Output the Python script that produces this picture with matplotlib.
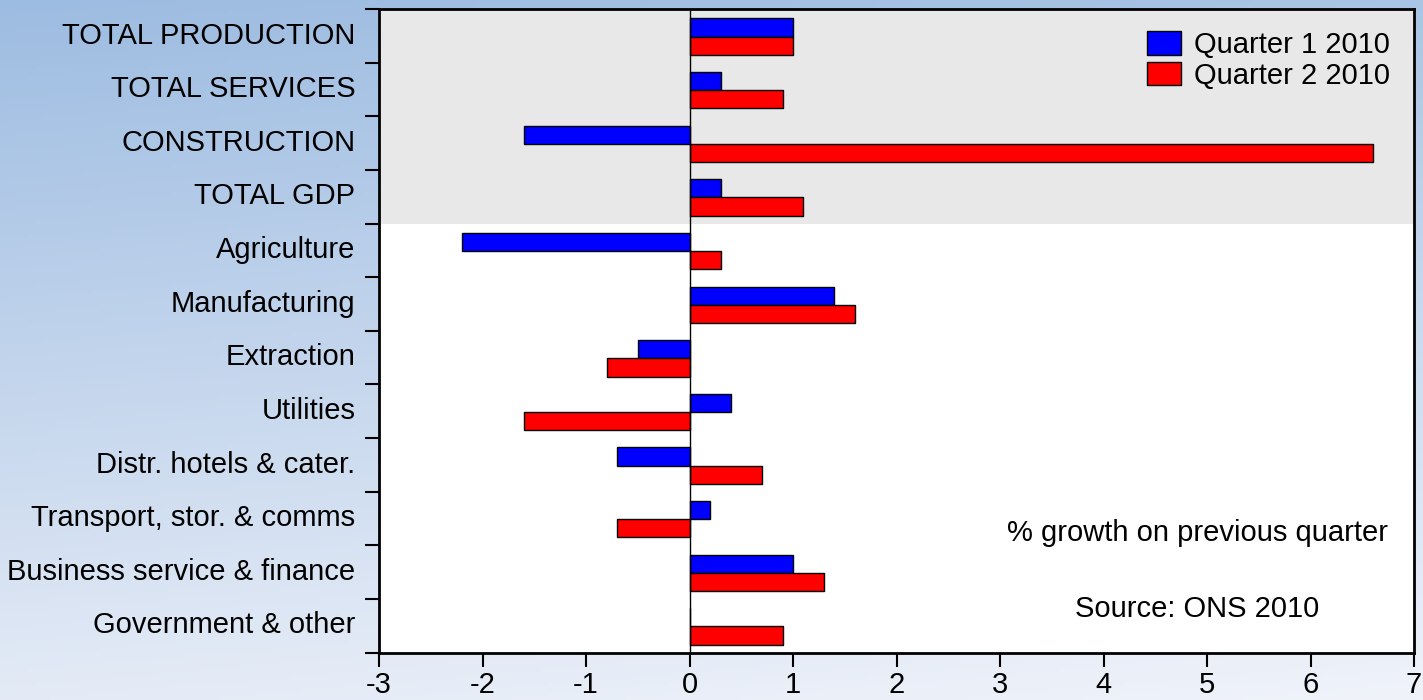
import numpy as np
import matplotlib
matplotlib.use("Agg")
import matplotlib.pyplot as plt
from matplotlib.patches import Patch

# data (% growth on previous quarter)
categories = ["TOTAL PRODUCTION", "TOTAL SERVICES", "CONSTRUCTION", "TOTAL GDP",
              "Agriculture", "Manufacturing", "Extraction", "Utilities",
              "Distr. hotels & cater.", "Transport, stor. & comms",
              "Business service & finance", "Government & other"]
q1_2010 = [1.0, 0.3, -1.6, 0.3, -2.2, 1.4, -0.5, 0.4, -0.7, 0.2, 1.0, 0.0]
q2_2010 = [1.0, 0.9, 6.6, 1.1, 0.3, 1.6, -0.8, -1.6, 0.7, -0.7, 1.3, 0.9]
series_names = ["Quarter 1 2010", "Quarter 2 2010"]
n_totals = 4  # top rows shaded grey
x_ticks = [-3, -2, -1, 0, 1, 2, 3, 4, 5, 6, 7]

plt.rcParams['font.family'] = ['Liberation Sans', 'DejaVu Sans']
FS = 21

fig = plt.figure(figsize=(14.23, 7.0), dpi=100)

# background gradient (blue at top-left fading to near white at bottom)
bg = fig.add_axes([0, 0, 1, 1], zorder=-10)
gy, gx = np.mgrid[0:1:200j, 0:1:200j]
t = np.clip(0.85 * gy + 0.15 * gx, 0, 1)
top = np.array([157, 188, 225]) / 255.0
bot = np.array([240, 243, 250]) / 255.0
img = top[None, None, :] * (1 - t[..., None]) + bot[None, None, :] * t[..., None]
bg.imshow(img, aspect='auto', extent=[0, 1, 0, 1], origin='upper')
bg.axis('off')

ax = fig.add_axes([379 / 1423, 1 - 652.5 / 700, (1414 - 379) / 1423, (652.5 - 9) / 700])
ax.set_facecolor('white')

y = np.arange(len(categories))
h = 0.34
ax.axhspan(-0.5, n_totals - 0.5, color='#e8e8e8', zorder=0, lw=0)
ax.barh(y - 0.155, q1_2010, height=h, color='#0000ff', edgecolor='black', lw=1, zorder=3,
        label=series_names[0])
ax.barh(y + 0.185, q2_2010, height=h, color='#ff0000', edgecolor='black', lw=1, zorder=3,
        label=series_names[1])
ax.axvline(0, color='black', lw=1, zorder=4)

ax.set_xlim(x_ticks[0], x_ticks[-1])
ax.set_ylim(len(categories) - 0.5, -0.5)

ax.set_xticks(x_ticks)
ax.set_xticklabels([str(v) for v in x_ticks], fontsize=FS)
ax.tick_params(axis='x', direction='out', length=10, width=1.5, pad=3)

ax.set_yticks(np.arange(-0.5, len(categories), 1.0))
ax.set_yticklabels([])
ax.tick_params(axis='y', which='major', direction='out', length=10, width=1.5)
ax.set_yticks(y - 0.06, minor=True)
ax.set_yticklabels(categories, minor=True, fontsize=FS)
ax.tick_params(axis='y', which='minor', length=0, pad=17)

for s in ax.spines.values():
    s.set_linewidth(2)
    s.set_color('black')

handles = [Patch(facecolor='#0000ff', edgecolor='black', lw=1),
           Patch(facecolor='#ff0000', edgecolor='black', lw=1)]
fig.legend(handles, series_names, loc='upper left',
           bbox_to_anchor=(1147 / 1423, 1 - 31 / 700), frameon=False, fontsize=FS,
           handlelength=1.15, handleheight=0.85, handletextpad=0.45,
           labelspacing=0.1, borderpad=0, borderaxespad=0)

ax.text(4.91, 9.27, "% growth on previous quarter", ha='center', va='center', fontsize=FS)
ax.text(4.9, 10.69, "Source: ONS 2010", ha='center', va='center', fontsize=FS)

fig.savefig("out.png", dpi=100)
